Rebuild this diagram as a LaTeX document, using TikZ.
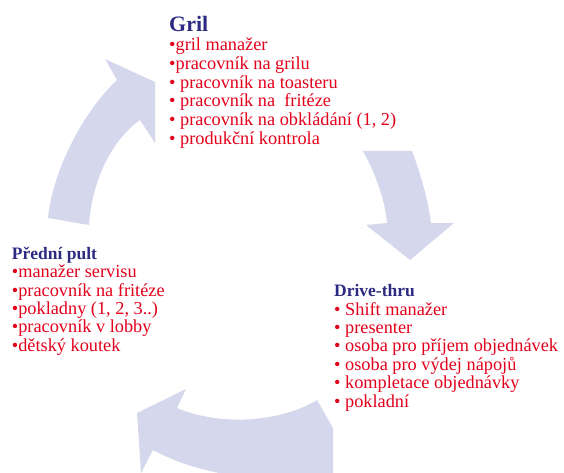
\documentclass[tikz,border=0pt]{standalone}
\usepackage{fontspec}
\setmainfont{Liberation Serif}
\usetikzlibrary{positioning}
\definecolor{ringfill}{RGB}{213,216,236}
\definecolor{headblue}{RGB}{45,42,130}
\definecolor{itemred}{RGB}{226,0,26}

\begin{document}
\begin{tikzpicture}[x=1pt, y=-1pt,
  ring/.style={fill=ringfill, draw=none},
  head/.style={anchor=base west, inner sep=0pt, text=headblue, font=\fontsize{17.5}{20}\selectfont\bfseries},
  items/.style={anchor=base west, inner sep=0pt, align=left, text=itemred, font=\fontsize{18.3}{18.4}\selectfont}]

\useasboundingbox (0,0) rectangle (564,473);
\clip (0,0) rectangle (564,473);

% left arrow, up to Gril
\fill[ring] (48,218) .. controls (52,175) and (80,115) .. (117,80) -- (105,59) -- (155,82)
  -- (155,143) -- (140,120) .. controls (112,140) and (92,180) .. (89,225) -- cycle;
% right arrow, down to Drive-thru
\fill[ring] (363,151) -- (412,151) .. controls (421,175) and (428,200) .. (431,223) -- (454,223)
  -- (410,260) -- (366,225) -- (387,223) .. controls (385,200) and (376,175) .. (363,151) -- cycle;
% bottom arrow, back to Predni pult
\fill[ring] (333,428) -- (317,400) .. controls (285,420) and (225,428) .. (177,408) -- (186,389)
  -- (137,413) -- (141,473) -- (153,450) .. controls (175,462) and (200,470) .. (235,476)
  -- (333,476) -- cycle;

% Gril (list placed by its last baseline)
\node[head, font=\fontsize{22}{24}\selectfont\bfseries] (gril) at (169,31.7) {Gril};
\node[items, font=\fontsize{18.3}{18.7}\selectfont] (grillist) at (169,144.2)
  {•gril manažer\\
   •pracovník na grilu\\
   • pracovník na toasteru\\
   • pracovník na\ \ fritéze\\
   • pracovník na obkládání (1, 2)\\
   • produkční kontrola};

% Predni pult
\node[head] (pult) at (11.7,259) {Přední pult};
\node[items] (pultlist) at (11.7,351.2)
  {•manažer servisu\\
   •pracovník na fritéze\\
   •pokladny (1, 2, 3..)\\
   •pracovník v lobby\\
   •dětský koutek};

% Drive-thru
\node[head] (drive) at (334,296) {Drive-thru};
\node[items] (drivelist) at (334,407)
  {• Shift manažer\\
   • presenter\\
   • osoba pro příjem objednávek\\
   • osoba pro výdej nápojů\\
   • kompletace objednávky\\
   • pokladní};

\end{tikzpicture}
\end{document}
